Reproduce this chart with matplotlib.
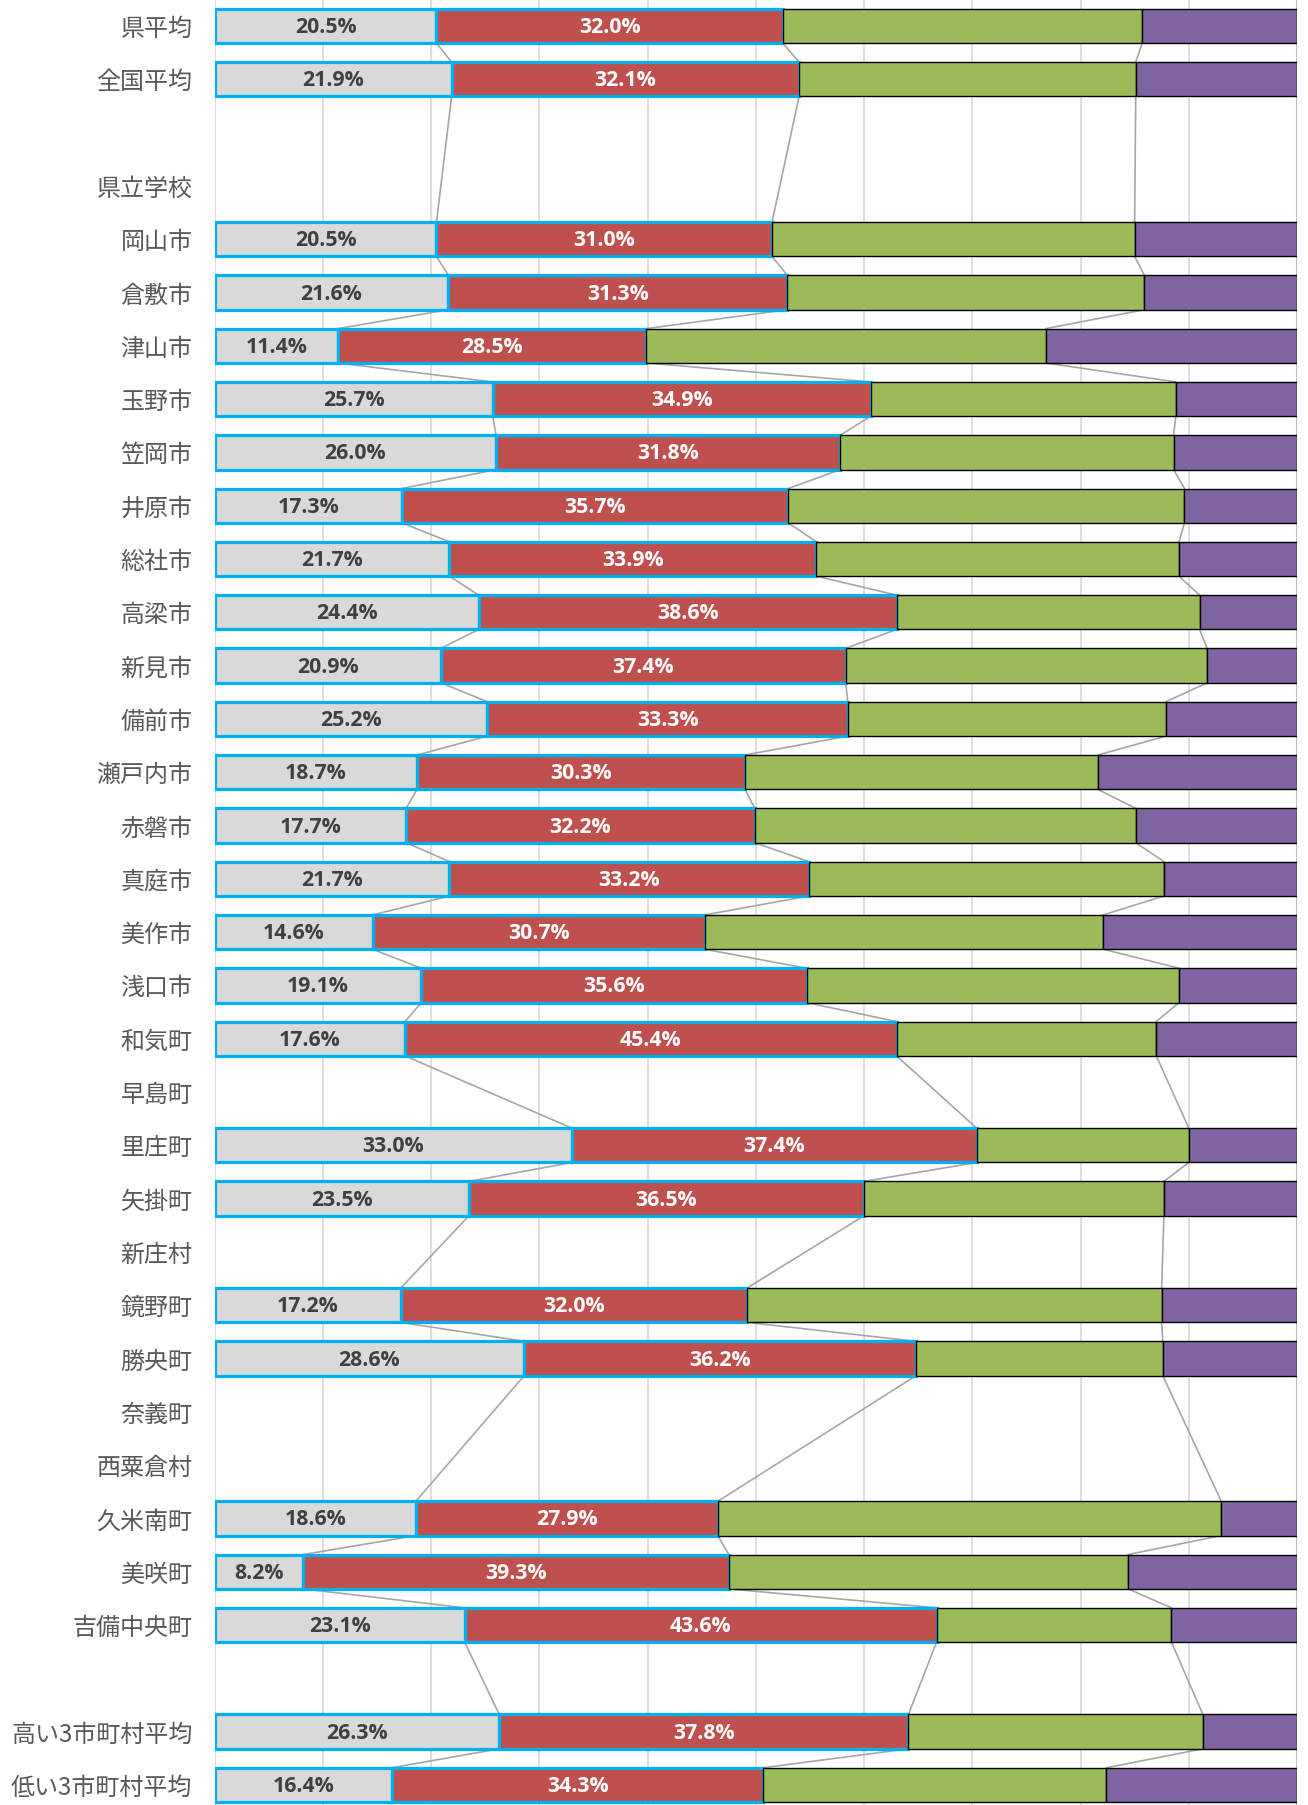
import numpy as np
import matplotlib.pyplot as plt

nan = np.nan

categories = ['県平均', '全国平均', '', '県立学校', '岡山市', '倉敷市', '津山市', '玉野市',
              '笠岡市', '井原市', '総社市', '高梁市', '新見市', '備前市', '瀬戸内市', '赤磐市',
              '真庭市', '美作市', '浅口市', '和気町', '早島町', '里庄町', '矢掛町', '新庄村',
              '鏡野町', '勝央町', '奈義町', '西粟倉村', '久米南町', '美咲町', '吉備中央町', '',
              '高い3市町村平均', '低い3市町村平均']

s_gray = [20.5, 21.9, nan, nan, 20.5, 21.6, 11.4, 25.7, 26.0, 17.3, 21.7, 24.4, 20.9, 25.2,
          18.7, 17.7, 21.7, 14.6, 19.1, 17.6, nan, 33.0, 23.5, nan, 17.2, 28.6, nan, nan,
          18.6, 8.2, 23.1, nan, 26.3, 16.4]
s_red = [32.0, 32.1, nan, nan, 31.0, 31.3, 28.5, 34.9, 31.8, 35.7, 33.9, 38.6, 37.4, 33.3,
         30.3, 32.2, 33.2, 30.7, 35.6, 45.4, nan, 37.4, 36.5, nan, 32.0, 36.2, nan, nan,
         27.9, 39.3, 43.6, nan, 37.8, 34.3]
s_green = [33.2, 31.1, nan, nan, 33.5, 33.0, 36.9, 28.2, 30.8, 36.6, 33.5, 28.0, 33.4, 29.4,
           32.6, 35.2, 32.8, 36.8, 34.4, 24.0, nan, 19.6, 27.7, nan, 38.3, 22.8, nan, nan,
           46.5, 36.9, 21.7, nan, 27.2, 31.7]
s_purple = [14.3, 14.9, nan, nan, 15.0, 14.1, 23.2, 11.2, 11.4, 10.4, 10.9, 9.0, 8.3, 12.1,
            18.4, 14.9, 12.3, 17.9, 10.9, 13.0, nan, 10.0, 12.3, nan, 12.5, 12.4, nan, nan,
            7.0, 15.6, 11.6, nan, 8.7, 17.6]

W, H = 1308, 1805
fig = plt.figure(figsize=(W / 100, H / 100), dpi=100)
x0, x1 = 214.6, 1297.0
ax = fig.add_axes([x0 / W, 0, (x1 - x0) / W, 1])

y = np.arange(len(categories))
h = 0.645
gray = np.array(s_gray)
red = np.array(s_red)
green = np.array(s_green)
purple = np.array(s_purple)

ax.barh(y, gray, height=h, color='#D9D9D9', edgecolor='#00B0F0', linewidth=2.3, zorder=3)
ax.barh(y, red, left=gray, height=h, color='#C0504D', edgecolor='#00B0F0', linewidth=2.3, zorder=3)
ax.barh(y, green, left=gray + red, height=h, color='#9BBB59', edgecolor='black', linewidth=1.0, zorder=4)
ax.barh(y, purple, left=gray + red + green, height=h, color='#8064A2', edgecolor='black', linewidth=1.0, zorder=4)

# series lines between consecutive rows that have data
valid = [i for i in y if not np.isnan(gray[i])]
for cum in [gray, gray + red, gray + red + green]:
    for a, b in zip(valid[:-1], valid[1:]):
        ax.plot([cum[a], cum[b]], [a + h / 2, b - h / 2], color='#A6A6A6', lw=1.2, zorder=1)

# data labels
lab_font = dict(family=['Open Sans', 'DejaVu Sans'], fontsize=15.3, fontweight='bold')
for i in valid:
    ax.text(gray[i] / 2, i + 0.03, f'{gray[i]:.1f}%', ha='center', va='center', color='#404040',
            zorder=6, **lab_font)
    ax.text(gray[i] + red[i] / 2, i + 0.03, f'{red[i]:.1f}%', ha='center', va='center',
            color='white', zorder=6, **lab_font)

# gridlines
for g in range(0, 100, 10):
    ax.axvline(g, color='#D9D9D9', lw=1.2, zorder=0)
ax.axvline(100, color='#BFBFBF', lw=1.5, zorder=0)

row_px, top_px = 53.3, 26.0
ax.set_xlim(0, 100)
ax.set_ylim((H - top_px) / row_px, -top_px / row_px)
ax.set_xticks([])
ax.set_yticks(y)
ax.set_yticklabels(categories, family=['Noto Sans CJK JP', 'DejaVu Sans'], fontsize=17.3,
                   color='#595959')
ax.tick_params(axis='y', length=0, pad=16)
for s in ax.spines.values():
    s.set_visible(False)

fig.savefig('out.png', dpi=100)
